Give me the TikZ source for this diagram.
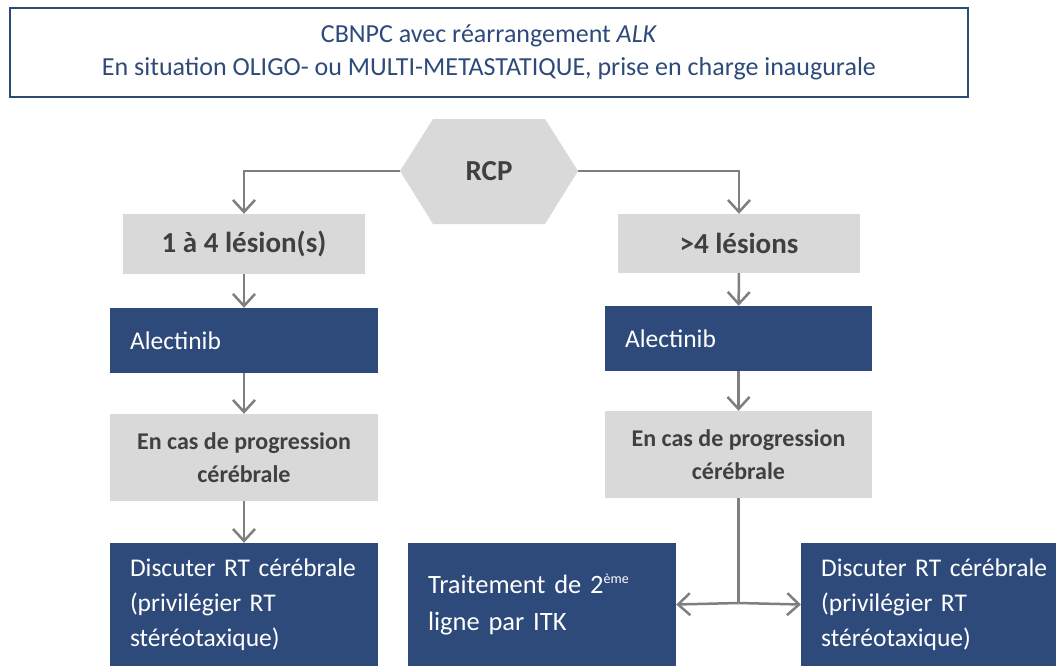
\documentclass[tikz,border=0pt]{standalone}
\usepackage{fontspec}
\setmainfont{Carlito}
\usetikzlibrary{arrows.meta}
\definecolor{navy}{HTML}{2E4A7B}
\definecolor{boxgray}{HTML}{D9D9D9}
\definecolor{txtgray}{HTML}{404040}
\definecolor{linegray}{HTML}{7F7F7F}
\begin{document}
\begin{tikzpicture}[x=1pt,y=-1pt,
  graybox/.style={fill=boxgray, draw=none, text=txtgray, font=\bfseries\fontsize{29}{34}\selectfont,
    minimum width=#1, inner sep=0pt, align=center},
  navybox/.style={fill=navy, draw=none, text=white, font=\fontsize{25.5}{35}\selectfont,
    minimum width=#1, text width=#1-40pt, inner xsep=20pt, inner ysep=0pt, align=left},
  flow/.style={draw=linegray, line width=2.5pt, -{Straight Barb[length=12pt,width=22pt,line width=2.5pt]}},
  plain/.style={draw=linegray, line width=2.5pt}]
\useasboundingbox (0,0) rectangle (1056,666);

% header box
\node[draw=navy, line width=1.5pt, minimum width=958pt, minimum height=89pt, inner sep=0pt,
  text=navy, align=center, font=\fontsize{26}{33}\selectfont] (title) at (489,52.5)
  {CBNPC avec réarrangement \textit{ALK}\\En situation OLIGO- ou MULTI-METASTATIQUE, prise en charge inaugurale};

% RCP hexagon
\fill[boxgray] (400,171) -- (433,119) -- (545,119) -- (578,171) -- (545,224) -- (433,224) -- cycle;
\node[text=txtgray, font=\bfseries\fontsize{29}{30}\selectfont] (rcp) at (489,171) {RCP};
\coordinate (rcpW) at (400,171);
\coordinate (rcpE) at (578,171);

% left branch
\node[graybox=242pt, minimum height=60pt] (few) at (244,244) {1 à 4 lésion(s)};
\node[navybox=268pt, minimum height=65pt] (alecL) at (244,340.5) {Alectinib};
\node[graybox=268pt, minimum height=87pt, font=\bfseries\fontsize{24}{33}\selectfont] (progL) at (244,457.5) {En cas de progression\\cérébrale};
\node[navybox=268pt, minimum height=123pt] (rtL) at (244,604.5) {Discuter RT cérébrale\\(privilégier RT\\stéréotaxique)};

% right branch
\node[graybox=242pt, minimum height=59pt] (many) at (739,243.5) {>4 lésions};
\node[navybox=267pt, minimum height=65pt] (alecR) at (738.5,338.5) {Alectinib};
\node[graybox=267pt, minimum height=87pt, font=\bfseries\fontsize{24}{33}\selectfont] (progR) at (738.5,454.5) {En cas de progression\\cérébrale};
\node[navybox=268pt, minimum height=123pt, font=\fontsize{26.5}{37}\selectfont] (itk) at (542,604.5) {Traitement de 2\raisebox{10pt}{\fontsize{14}{14}\selectfont ème}\\ligne par ITK};
% this box runs past the right edge of the page
\node[navybox=280pt, minimum height=123pt, anchor=west] (rtR) at (801,604.5) {Discuter RT cérébrale\\(privilégier RT\\stéréotaxique)};

% connectors
\draw[flow] (rcpW) -| (few.north);
\draw[flow] (rcpE) -| (many.north);
\draw[flow] (few) -- (alecL);
\draw[flow] (alecL) -- (progL);
\draw[flow] (progL) -- (rtL);
\draw[flow] (many) -- (alecR);
\draw[flow] (alecR) -- (progR);
\coordinate (split) at (progR.south |- 0,603);
\draw[plain] (progR.south) -- (split);
\draw[flow] (split) -- (itk.east);
\draw[flow] (split) -- (rtR.west);
\end{tikzpicture}
\end{document}
